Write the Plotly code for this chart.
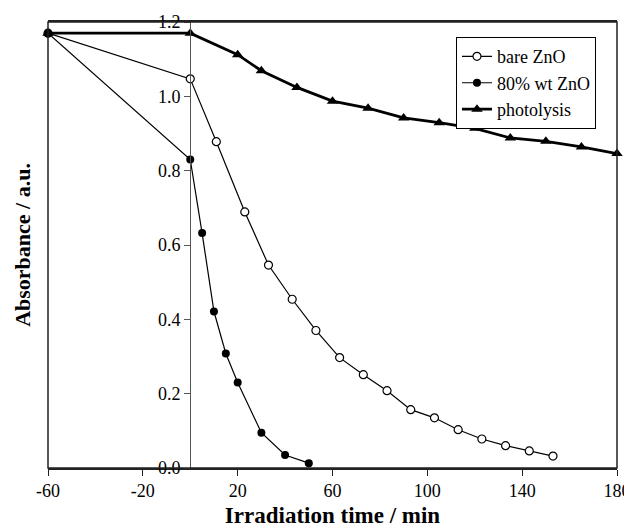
import plotly.graph_objects as go

# Data
bare_t = [-60, 0, 11, 23, 33, 43, 53, 63, 73, 83, 93, 103, 113, 123, 133, 143, 153]
bare_a = [1.17, 1.047, 0.878, 0.689, 0.546, 0.454, 0.370, 0.297, 0.251, 0.208, 0.157,
          0.135, 0.103, 0.078, 0.060, 0.046, 0.032]

zno80_t = [-60, 0, 5, 10, 15, 20, 30, 40, 50]
zno80_a = [1.17, 0.830, 0.632, 0.421, 0.308, 0.230, 0.095, 0.035, 0.013]

photo_t = [-60, 0, 20, 30, 45, 60, 75, 90, 105, 120, 135, 150, 165, 180]
photo_a = [1.17, 1.170, 1.112, 1.069, 1.024, 0.987, 0.968, 0.942, 0.929, 0.914,
           0.888, 0.879, 0.864, 0.846]

x_ticks = [-60, -20, 20, 60, 100, 140, 180]
y_ticks = [0.0, 0.2, 0.4, 0.6, 0.8, 1.0, 1.2]

FF = "Liberation Serif, serif"

fig = go.Figure()
fig.add_trace(go.Scatter(
    x=bare_t, y=bare_a, name="bare ZnO", mode="lines+markers",
    line=dict(color="black", width=1.2),
    marker=dict(symbol="circle", size=8, color="white", line=dict(color="black", width=1.2)),
    cliponaxis=False))
fig.add_trace(go.Scatter(
    x=zno80_t, y=zno80_a, name="80% wt ZnO", mode="lines+markers",
    line=dict(color="black", width=1.2),
    marker=dict(symbol="circle", size=8, color="black"),
    cliponaxis=False))
fig.add_trace(go.Scatter(
    x=photo_t, y=photo_a, name="photolysis", mode="lines+markers",
    line=dict(color="black", width=2.8),
    marker=dict(symbol="triangle-up", size=10, color="black"),
    cliponaxis=False))

fig.update_layout(
    width=624, height=520,
    margin=dict(l=40, r=15, t=14, b=60, autoexpand=False),
    paper_bgcolor="white", plot_bgcolor="white",
    font=dict(family=FF, size=18, color="black"),
    showlegend=True,
    legend=dict(x=0.717, y=0.966, xanchor="left", yanchor="top",
                bordercolor="black", borderwidth=1, bgcolor="white",
                font=dict(family=FF, size=18, color="black"),
                tracegroupgap=0, itemwidth=30),
    xaxis=dict(range=[-60, 180], domain=[0, 1], tickvals=x_ticks,
               ticktext=[str(v) for v in x_ticks], automargin=False,
               tickfont=dict(family=FF, size=18, color="black"),
               showgrid=False, zeroline=False, showline=True, linecolor="#222",
               linewidth=1.5, mirror=True, ticks="outside", ticklen=6,
               tickcolor="#222", tickwidth=1.2,
               title=dict(text="<b>Irradiation time / min</b>",
                          font=dict(family=FF, size=23, color="black"), standoff=10)),
    yaxis=dict(range=[0, 1.2], domain=[0, 1], tickvals=y_ticks,
               ticktext=[f"{v:.1f}" for v in y_ticks], automargin=False,
               tickfont=dict(family=FF, size=18, color="black"),
               anchor="free", position=0.25,
               showgrid=False, zeroline=False, showline=True, linecolor="#555",
               linewidth=1.2, ticks="outside", ticklen=6, tickcolor="#555",
               title=None),
    shapes=[dict(type="rect", xref="paper", yref="paper", x0=0, x1=1, y0=0, y1=1,
                 line=dict(color="#222", width=1.5), layer="above")],
    annotations=[dict(text="<b>Absorbance / a.u.</b>", xref="paper", yref="paper",
                      x=-0.046, y=0.5, textangle=-90, showarrow=False,
                      font=dict(size=22, family=FF, color="black"),
                      xanchor="center", yanchor="middle")],
)

fig.write_html("out.html")
